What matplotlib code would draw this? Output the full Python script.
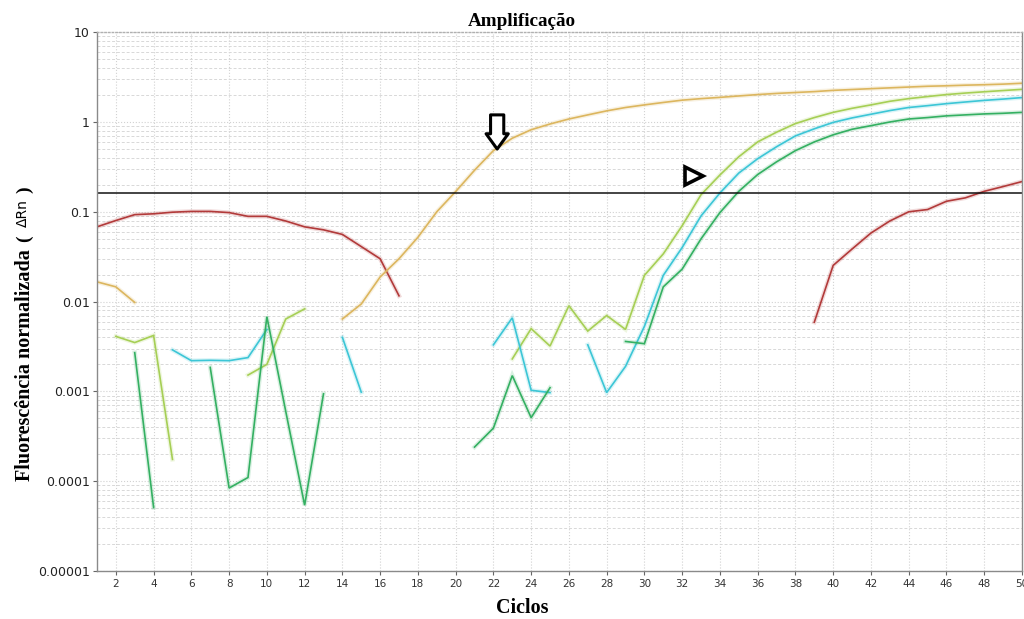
import numpy as np
import matplotlib
matplotlib.use('Agg')
import matplotlib.pyplot as plt
import matplotlib.patheffects as pe
from matplotlib.ticker import FixedLocator, LogLocator, NullFormatter

nan = np.nan

# =============================================================================
# Data (delta Rn per cycle, NaN = not drawn)
# =============================================================================
cycles = np.arange(1, 51)

red = ([0.068, 0.080, 0.093, 0.095, 0.099, 0.101, 0.101, 0.098, 0.089, 0.089,
        0.079, 0.068, 0.063, 0.056, 0.041, 0.030, 0.0116]
       + [nan] * 21
       + [0.0059, 0.0253, 0.0385, 0.058, 0.079, 0.100, 0.106, 0.131, 0.143,
          0.169, 0.191, 0.217])

gold = ([0.0166, 0.0146, 0.0098]
        + [nan] * 10
        + [0.0064, 0.0094, 0.0188, 0.030, 0.052, 0.100, 0.168, 0.29, 0.48, 0.66,
           0.82, 0.95, 1.08, 1.20, 1.33, 1.45, 1.55, 1.65, 1.75, 1.82, 1.88,
           1.95, 2.02, 2.08, 2.13, 2.18, 2.25, 2.30, 2.35, 2.40, 2.45, 2.50,
           2.53, 2.57, 2.60, 2.64, 2.70])

lime = ([nan]
        + [0.0041, 0.0035, 0.0042, 0.000175]
        + [nan] * 3
        + [0.00152, 0.0020, 0.0064, 0.0083]
        + [nan] * 10
        + [0.0023, 0.0050, 0.0032, 0.0090, 0.0047, 0.0070, 0.0049, 0.0196,
           0.034, 0.070, 0.155, 0.257, 0.41, 0.60, 0.77, 0.96, 1.12, 1.28,
           1.42, 1.55, 1.70, 1.82, 1.92, 2.02, 2.10, 2.17, 2.24, 2.31])

cyan = ([nan] * 4
        + [0.0029, 0.0022, 0.00222, 0.0022, 0.00238, 0.0049]
        + [nan] * 3
        + [0.0040, 0.00098]
        + [nan] * 6
        + [0.0033, 0.0066, 0.00103, 0.00097]
        + [nan]
        + [0.0033, 0.00097, 0.0019, 0.0053, 0.0196, 0.040, 0.090, 0.162, 0.27,
           0.39, 0.53, 0.70, 0.84, 0.99, 1.11, 1.22, 1.34, 1.45, 1.52, 1.60,
           1.67, 1.74, 1.80, 1.87])

green = ([nan] * 2
         + [0.0027, 5.1e-5]
         + [nan] * 2
         + [0.00185, 8.4e-5, 0.00011, 0.0068, 0.0006, 5.4e-5, 0.00094]
         + [nan] * 7
         + [0.00024, 0.00039, 0.0015, 0.00051, 0.0011]
         + [nan] * 3
         + [0.0036, 0.0034, 0.0146, 0.023, 0.050, 0.098, 0.169, 0.26, 0.36,
            0.48, 0.60, 0.72, 0.83, 0.91, 1.00, 1.08, 1.12, 1.17, 1.20, 1.23,
            1.25, 1.28])

threshold = 0.16

series = [
    (red,   '#b23a3a'),
    (gold,  '#dcb65e'),
    (lime,  '#a6cf55'),
    (cyan,  '#3cc6d6'),
    (green, '#34b062'),
]

y_ticks = [1e-5, 1e-4, 1e-3, 1e-2, 1e-1, 1, 10]
y_tick_labels = ['0.00001', '0.0001', '0.001', '0.01', '0.1', '1', '10']
x_ticks = list(range(2, 51, 2))

# =============================================================================
# Plot
# =============================================================================
fig = plt.figure(figsize=(10.24, 6.19), dpi=100)
ax = fig.add_axes([0.0947, 0.0775, 0.9033, 0.8705])

for vals, col in series:
    ax.plot(cycles, np.array(vals, dtype=float), color=col, lw=1.2,
            solid_joinstyle='miter',
            path_effects=[pe.Stroke(linewidth=3.2, foreground=col, alpha=0.18),
                          pe.Normal()])

ax.axhline(threshold, color='#111111', lw=1.1)

ax.set_yscale('log')
ax.set_xlim(1, 50)
ax.set_ylim(1e-5, 10)

ax.yaxis.set_major_locator(FixedLocator(y_ticks))
ax.set_yticklabels(y_tick_labels)
ax.yaxis.set_minor_locator(LogLocator(base=10, subs=np.arange(2, 10)))
ax.yaxis.set_minor_formatter(NullFormatter())
ax.set_xticks(x_ticks)
ax.set_xticklabels([str(t) for t in x_ticks])

ax.tick_params(axis='y', which='major', labelsize=9, colors='#666666',
               labelcolor='#222222', length=3, width=0.8, pad=2)
ax.tick_params(axis='y', which='minor', length=0)
ax.tick_params(axis='x', which='major', labelsize=7.5, colors='#666666',
               labelcolor='#333333', length=3, width=0.8, pad=3)

ax.grid(True, which='major', color='#d2d2d2', lw=0.8, ls=':')
ax.grid(True, which='minor', axis='y', color='#d8d8d8', lw=0.7, ls=(0, (3, 2)))
ax.set_axisbelow(True)

for s in ax.spines.values():
    s.set_color('#8a8a8a')
    s.set_linewidth(1.0)
ax.spines['top'].set_color('#b0b0b0')
ax.spines['top'].set_linestyle(':')

# markers drawn on the reference
ax.annotate('', xy=(22.2, 0.50), xytext=(22.2, 1.20),
            arrowprops=dict(arrowstyle='simple,head_width=1.6,head_length=1.1,tail_width=0.95',
                            fc='white', ec='black', lw=2.2, shrinkA=0, shrinkB=0))
ax.plot([32.65], [0.248], marker='>', ms=13, mfc='white', mec='black', mew=2.6)

# texts
fig.text(0.51, 0.965, 'Amplificação', ha='center', va='center',
         family='Liberation Serif', weight='bold', fontsize=13.8)
fig.text(0.51, 0.018, 'Ciclos', ha='center', va='center',
         family='Liberation Serif', weight='bold', fontsize=14.4)
fig.text(0.024, 0.410, 'Fluorescência normalizada', rotation=90,
         ha='center', va='center', family='Liberation Serif', weight='bold',
         fontsize=14.5)
fig.text(0.024, 0.615, '(', rotation=90, ha='center', va='center',
         family='Liberation Serif', weight='bold', fontsize=14)
fig.text(0.022, 0.656, 'ΔRn', rotation=90, ha='center', va='center',
         family='DejaVu Sans', fontsize=10)
fig.text(0.024, 0.693, ')', rotation=90, ha='center', va='center',
         family='Liberation Serif', weight='bold', fontsize=14)

fig.savefig('out.png', dpi=100)
